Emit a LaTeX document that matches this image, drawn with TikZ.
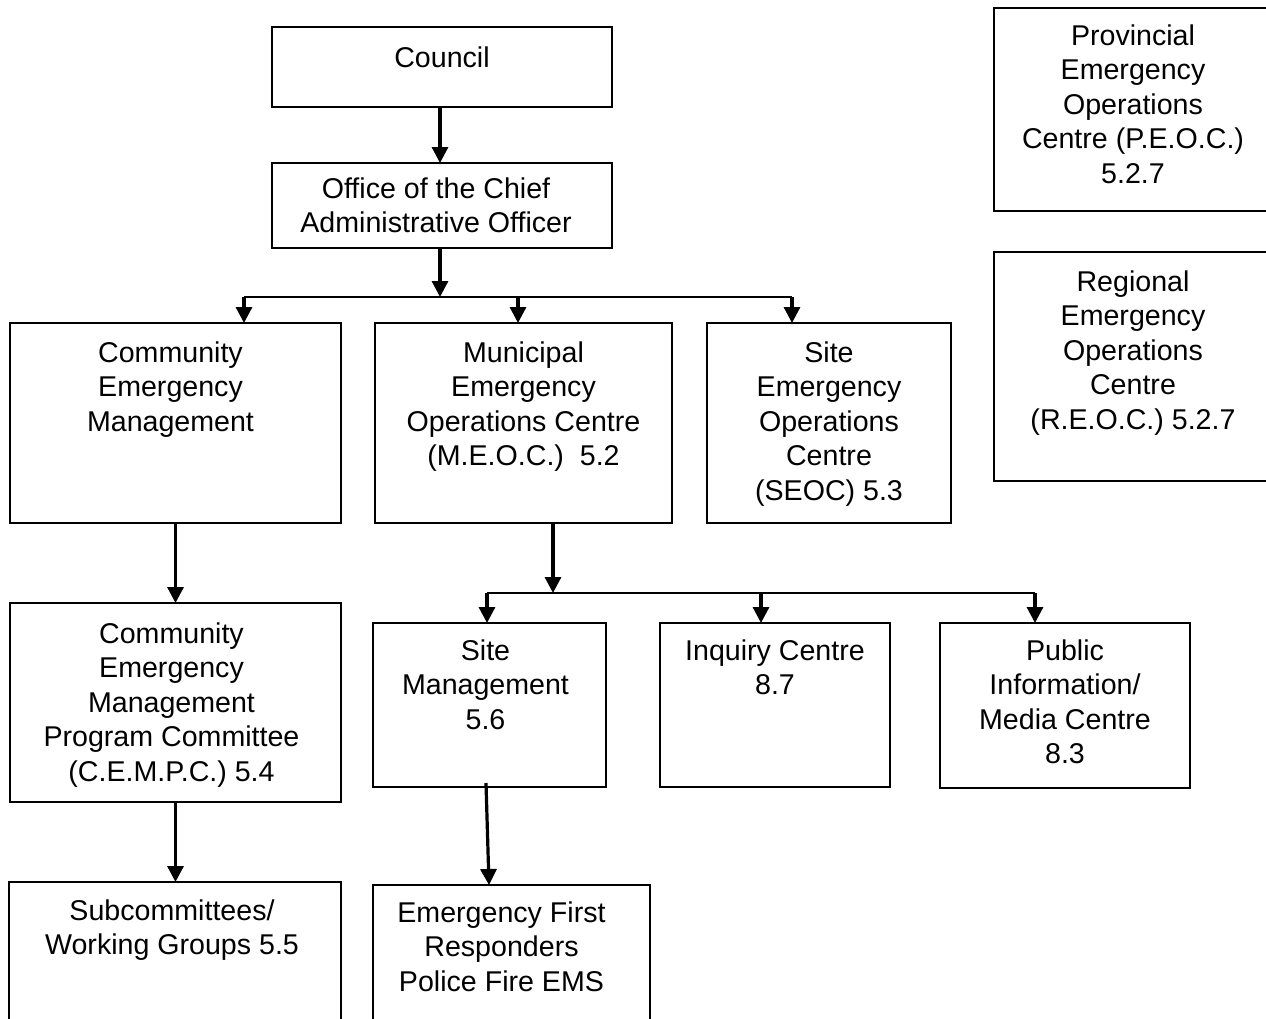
\documentclass[tikz,border=0pt]{standalone}
\usepackage{fontspec}
\setmainfont{Liberation Sans}
\usepackage{tikz}
\usetikzlibrary{positioning}
\usetikzlibrary{arrows.meta}
\tikzset{unit/.style={draw=black, line width=0.9pt, rectangle, inner sep=0pt, outer sep=0pt, anchor=north west}}
\tikzset{lbl/.style={align=center, inner sep=0pt, font=\fontsize{14.3}{17.25}\selectfont}}
\tikzset{link/.style={line width=1.6pt, -{Triangle[width=8pt,length=8pt]}}, branch/.style={line width=1pt}}

\begin{document}
\begin{tikzpicture}[x=0.5pt, y=-0.5pt]
\clip (0,0) rectangle (1266,1019);
\fill[white] (0,0) rectangle (1266,1019);
 \node[unit, minimum width=170pt, minimum height=40pt] (council) at (272,27) {};
 \node[unit, minimum width=170pt, minimum height=42.5pt] (office) at (272,163) {};
 \node[unit, minimum width=139pt, minimum height=101.5pt] (peoc) at (994,8) {};
 \node[unit, minimum width=139pt, minimum height=114.5pt] (reoc) at (994,252) {};
 \node[unit, minimum width=165.5pt, minimum height=100pt] (cem) at (10,323) {};
 \node[unit, minimum width=148.5pt, minimum height=100pt] (meoc) at (375,323) {};
 \node[unit, minimum width=122pt, minimum height=100pt] (seoc) at (707,323) {};
 \node[unit, minimum width=165.5pt, minimum height=99.5pt] (cempc) at (10,603) {};
 \node[unit, minimum width=116.5pt, minimum height=82pt] (site) at (373,623) {};
 \node[unit, minimum width=115pt, minimum height=82pt] (inquiry) at (660,623) {};
 \node[unit, minimum width=125pt, minimum height=82.5pt] (media) at (940,623) {};
 \node[unit, minimum width=166pt, minimum height=80pt] (subcom) at (9,882) {};
 \node[unit, minimum width=138.5pt, minimum height=80pt] (efr) at (373,885) {};

 \node[lbl, below=9.5pt of council.north] (councilT) {Council};
 \node[lbl, below=7pt of office.north, xshift=-3pt] (officeT) {Office of the Chief\\Administrative Officer};
 \node[lbl, below=8pt of peoc.north] (peocT) {Provincial\\Emergency\\Operations\\Centre (P.E.O.C.)\\5.2.7};
 \node[lbl, below=9pt of reoc.north] (reocT) {Regional\\Emergency\\Operations\\Centre\\(R.E.O.C.) 5.2.7};
 \node[lbl, below=9pt of cem.north, xshift=-2.5pt] (cemT) {Community\\Emergency\\Management};
 \node[lbl, below=9pt of meoc.north] (meocT) {Municipal\\Emergency\\Operations Centre\\(M.E.O.C.)~ 5.2};
 \node[lbl, below=9pt of seoc.north] (seocT) {Site\\Emergency\\Operations\\Centre\\(SEOC) 5.3};
 \node[lbl, below=9.5pt of cempc.north, xshift=-2pt] (cempcT) {Community\\Emergency\\Management\\Program Committee\\(C.E.M.P.C.) 5.4};
 \node[lbl, below=8pt of site.north, xshift=-2pt] (siteT) {Site\\Management\\5.6};
 \node[lbl, below=8pt of inquiry.north] (inquiryT) {Inquiry Centre\\8.7};
 \node[lbl, below=8pt of media.north] (mediaT) {Public\\Information/\\Media Centre\\8.3};
 \node[lbl, below=8.5pt of subcom.north, xshift=-1.5pt] (subcomT) {Subcommittees/\\Working Groups 5.5};
 \node[lbl, below=8pt of efr.north, xshift=-5pt] (efrT) {Emergency First\\Responders\\Police Fire EMS};

 \coordinate (fork1) at (440,297);
 \coordinate (fork1l) at (244,297);
 \coordinate (fork1m) at (518,297);
 \coordinate (fork1r) at (792,297);
 \coordinate (fork2) at (553,593);
 \coordinate (fork2l) at (487,593);
 \coordinate (fork2m) at (761,593);
 \coordinate (fork2r) at (1035,593);

 \draw[link] (council.south -| fork1) -- (office.north -| fork1);
 \draw[link] (office.south -| fork1) -- (fork1);
 \draw[branch] (fork1l) -- (fork1r);
 \draw[link] (fork1l) -- (fork1l |- cem.north);
 \draw[link] (fork1m) -- (fork1m |- meoc.north);
 \draw[link] (fork1r) -- (fork1r |- seoc.north);

 \draw[link] (meoc.south -| fork2) -- (fork2);
 \draw[branch] (fork2l) -- (fork2r);
 \draw[link] (fork2l) -- (fork2l |- site.north);
 \draw[link] (fork2m) -- (fork2m |- inquiry.north);
 \draw[link] (fork2r) -- (fork2r |- media.north);

 \draw[link] (cem.south) -- (cempc.north);
 \draw[link] (cempc.south) -- (cempc.south |- subcom.north);
 \draw[link] ([xshift=-1.75pt, yshift=2pt]site.south) -- ([xshift=-11.25pt]efr.north);
\end{tikzpicture}
\end{document}
